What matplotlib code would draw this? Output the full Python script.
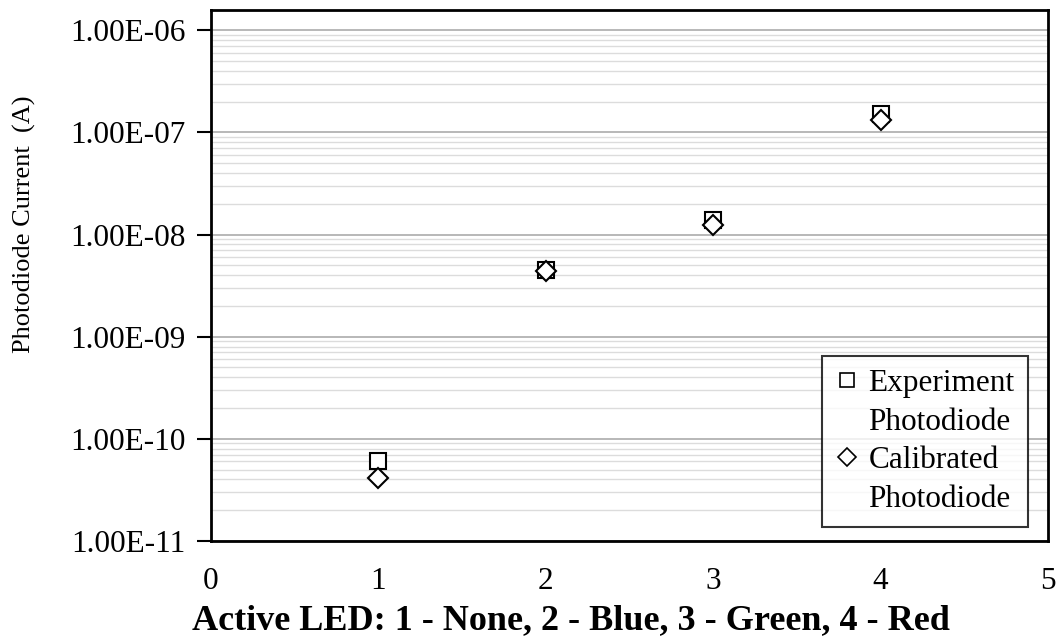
import numpy as np
import matplotlib.pyplot as plt
from matplotlib.lines import Line2D
from matplotlib.ticker import LogLocator, FixedLocator

plt.rcParams['font.family'] = ['Liberation Serif', 'DejaVu Serif']

# LED index: 1 - None, 2 - Blue, 3 - Green, 4 - Red
led = [1, 2, 3, 4]
experiment = [6.0e-11, 4.45e-9, 1.38e-8, 1.53e-7]
experiment_err = [0.8e-11, 0.35e-9, 1.0e-9, 1.2e-8]
calibrated = [4.15e-11, 4.35e-9, 1.24e-8, 1.31e-7]
calibrated_err = [0.3e-11, 0.3e-9, 0.8e-9, 1.0e-8]
ytick_vals = [1e-11, 1e-10, 1e-9, 1e-8, 1e-7, 1e-6]
ytick_labels = ['1.00E-11', '1.00E-10', '1.00E-09', '1.00E-08', '1.00E-07', '1.00E-06']

fig = plt.figure(figsize=(10.6, 6.39), dpi=100)
ax = fig.add_axes([0.199, 0.1534, 0.7897, 0.8306])

ax.errorbar(led, experiment, yerr=experiment_err, fmt='s', ms=12, mfc='white',
            mec='black', mew=1.5, ecolor='black', elinewidth=1.2, capsize=4.5, zorder=3)
ax.errorbar(led, calibrated, yerr=calibrated_err, fmt='D', ms=10.5, mfc='white',
            mec='black', mew=1.5, ecolor='black', elinewidth=1.2, capsize=4.5, zorder=4)

ax.set_yscale('log')
ax.set_xlim(0, 5)
ax.set_ylim(1e-11, 10 ** (-6 + 20 / 102.2))
ax.yaxis.set_major_locator(FixedLocator(ytick_vals))
ax.yaxis.set_minor_locator(LogLocator(base=10, subs=np.arange(2, 10), numticks=20))
ax.set_yticklabels(ytick_labels)
ax.yaxis.set_minor_formatter(plt.NullFormatter())
ax.set_xticks([0, 1, 2, 3, 4, 5])

ax.grid(True, which='major', axis='y', color='#b8b8b8', lw=1.4, zorder=0)
ax.grid(True, which='minor', axis='y', color='#dcdcdc', lw=1.0, zorder=0)
ax.set_axisbelow(True)

ax.tick_params(axis='y', which='major', length=10, width=1.5, direction='out',
               labelsize=22.5, pad=8)
ax.tick_params(axis='y', which='minor', length=0)
ax.tick_params(axis='x', length=0, labelsize=22.5, pad=19)
for s in ax.spines.values():
    s.set_linewidth(2)
    s.set_color('black')

fig.text(571 / 1060, 1 - 621 / 639, 'Active LED: 1 - None, 2 - Blue, 3 - Green, 4 - Red',
         fontsize=26, fontweight='bold', ha='center', va='center')
fig.text(24 / 1060, 1 - 224 / 639, 'Photodiode Current  (A)', fontsize=19,
         rotation=90, ha='center', va='center')

empty = Line2D([], [], ls='none', marker='none')
handles = [Line2D([], [], ls='none', marker='s', ms=10.5, mfc='white', mec='black', mew=1.2),
           empty,
           Line2D([], [], ls='none', marker='D', ms=9, mfc='white', mec='black', mew=1.2),
           empty]
labels = ['Experiment', 'Photodiode', 'Calibrated', 'Photodiode']
leg = ax.legend(handles, labels, loc='lower right', bbox_to_anchor=(0.9757, 0.027),
                fontsize=22.5, frameon=True, fancybox=False, edgecolor='black',
                handlelength=0.75, handletextpad=0.3, borderpad=0.42, labelspacing=0.3,
                borderaxespad=0)
leg.get_frame().set_linewidth(1.5)

fig.savefig('out.png', dpi=100)
